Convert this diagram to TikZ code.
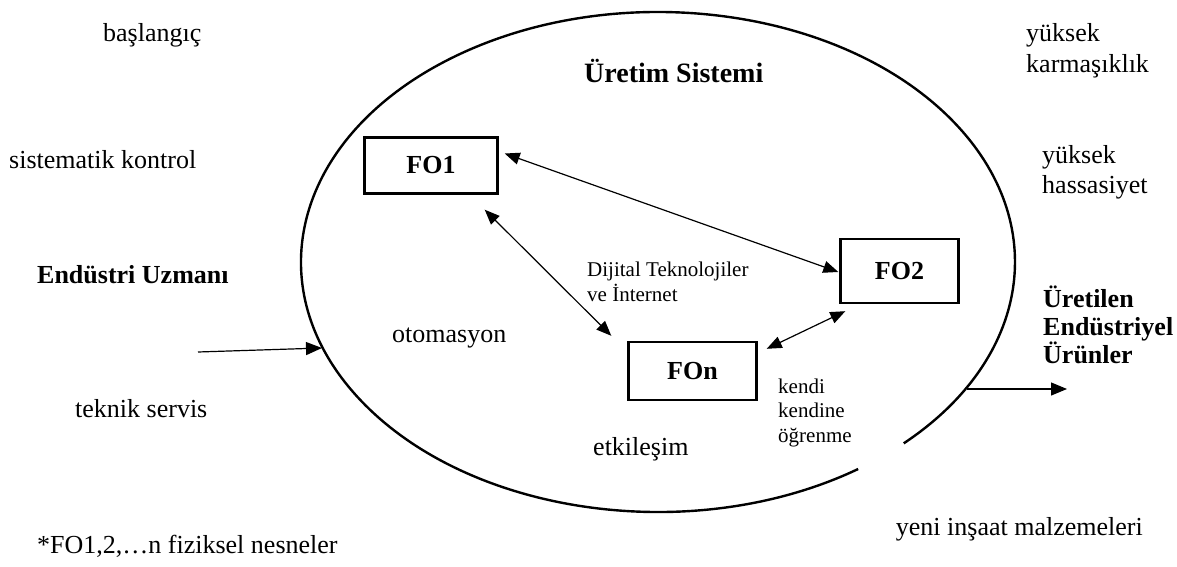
\documentclass[tikz,border=0pt]{standalone}
\usepackage{fontspec}
\setmainfont{Liberation Serif}
\usetikzlibrary{arrows.meta}
\begin{document}
\begin{tikzpicture}[x=1pt,y=-1pt,
  txt/.style={inner sep=0pt, anchor=base west, align=left,
              font=\fontsize{26}{30}\selectfont},
  txtb/.style={txt, font=\fontsize{26}{28}\bfseries\selectfont},
  small/.style={inner sep=0pt, anchor=base west, align=left,
              font=\fontsize{21}{24.5}\selectfont},
  fobox/.style={draw, line width=2.4pt, inner sep=0pt,
              font=\fontsize{26}{30}\bfseries\selectfont},
  oval/.style={line width=2.4pt},
  link/.style={line width=1.2pt, {Triangle[length=15pt,width=12pt]}-{Triangle[length=15pt,width=12pt]}},
  flow/.style={line width=1.2pt, -{Triangle[length=16pt,width=13pt]}}]
\useasboundingbox (0,0) rectangle (1177,567);

% production system boundary (open at the lower right)
\coordinate (sysc) at (658,262);
\draw[oval] (sysc) ++(55.9:357 and 250)
  arc[start angle=55.9, end angle=406.5, x radius=357, y radius=250];

% physical objects
\node[fobox, minimum width=133pt, minimum height=56pt] (fo1) at (431,165.5) {FO1};
\node[fobox, minimum width=118pt, minimum height=64pt] (fo2) at (899.5,271) {FO2};
\node[fobox, minimum width=128pt, minimum height=58pt] (fon) at (692.5,371) {FOn};

% links between objects
\draw[link] ([shift={(6,-12)}]fo1.east) -- ([shift={(-1,1)}]fo2.west);
\draw[link] ([shift={(-14,15)}]fo1.south east) -- ([shift={(-16,-5)}]fon.north west);
\draw[link] ([shift={(9,8)}]fon.north east) -- ([shift={(6,7)}]fo2.south west);

% input and output
\coordinate (in0) at (198,352);
\coordinate (in1) at (322,348);
\draw[flow] (in0) -- (in1);
\coordinate (out0) at (967,389);
\coordinate (out1) at (1067,389);
\draw[flow] (out0) -- (out1);

% labels (multi-line labels are placed by the baseline of their last line)
\node[txtb, font=\fontsize{28}{30}\bfseries\selectfont] (title) at (584,83) {Üretim Sistemi};
\node[txt] (l1) at (103,42) {başlangıç};
\node[txt] (l2) at (9,168) {sistematik kontrol};
\node[txtb] (l3) at (37,283) {Endüstri Uzmanı};
\node[txt] (l4) at (75,417) {teknik servis};
\node[txt] (l5) at (392,342) {otomasyon};
\node[txt] (l6) at (593,455) {etkileşim};
\node[small] (l7) at (587,301) {Dijital Teknolojiler\\ve İnternet};
\node[small] (l8) at (778,442) {kendi\\kendine\\öğrenme};
\node[txt, font=\fontsize{26}{31}\selectfont] (r1) at (1026,73) {yüksek\\karmaşıklık};
\node[txt] (r2) at (1042,193) {yüksek\\hassasiyet};
\node[txtb] (r3) at (1043,363) {Üretilen\\Endüstriyel\\Ürünler};
\node[txt, anchor=base east] (r4) at (1143,535) {yeni inşaat malzemeleri};
\node[txt] (note) at (37,553) {*FO1,2,\ldots n fiziksel nesneler};
\end{tikzpicture}
\end{document}
